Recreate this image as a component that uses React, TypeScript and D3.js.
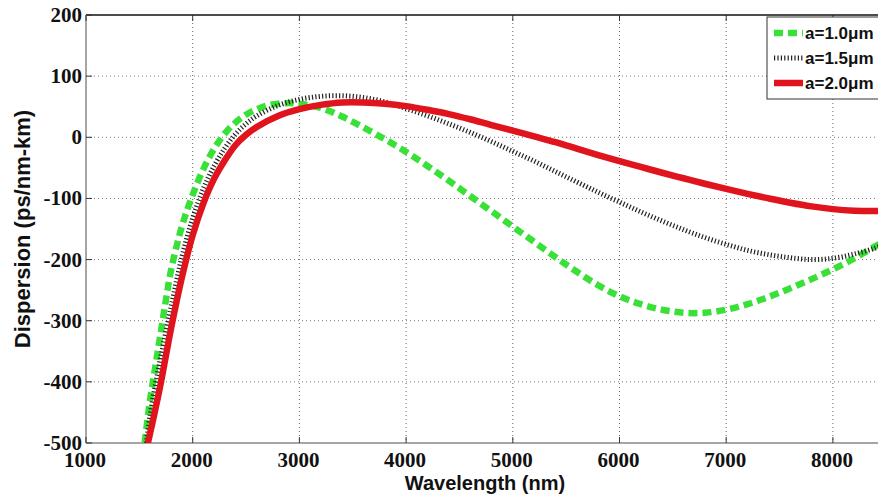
import React from "react";
import * as d3 from "d3";

const xTicks = [1000, 2000, 3000, 4000, 5000, 6000, 7000, 8000];
const yTicks = [200, 100, 0, -100, -200, -300, -400, -500];

const wlA10 = [1550, 1600, 1650, 1700, 1750, 1800, 1900, 2000, 2100, 2200, 2300, 2400, 2500, 2600, 2700, 2800, 2900, 3000, 3200, 3400, 3600, 3800, 4000, 4200, 4400, 4600, 4800, 5000, 5200, 5400, 5600, 5800, 6000, 6200, 6400, 6600, 6800, 7000, 7200, 7400, 7600, 7800, 8000, 8200, 8400, 8500];
const dA10 = [-500, -430, -375, -320, -265, -215, -145, -94, -52, -19, 6, 24, 37, 46, 52, 55, 56, 55, 48, 34, 16, -3, -24, -47, -71, -96, -121, -146, -171, -196, -220, -242, -260, -273, -282, -287, -287, -282, -273, -261, -247, -232, -216, -198, -178, -168];

const wlA15 = [1565, 1600, 1650, 1700, 1800, 1900, 2000, 2100, 2200, 2300, 2400, 2500, 2600, 2800, 3000, 3200, 3400, 3600, 3800, 4000, 4200, 4400, 4600, 4800, 5000, 5200, 5400, 5600, 5800, 6000, 6200, 6400, 6600, 6800, 7000, 7200, 7400, 7600, 7800, 8000, 8200, 8400, 8500];
const dA15 = [-500, -455, -405, -360, -275, -195, -132, -84, -47, -18, 5, 22, 35, 52, 62, 67, 68, 65, 58, 47, 35, 22, 8, -7, -23, -39, -56, -73, -90, -106, -122, -137, -151, -164, -175, -185, -192, -197, -200, -198, -191, -181, -174];

const wlA20 = [1580, 1650, 1700, 1800, 1900, 2000, 2100, 2200, 2300, 2400, 2500, 2600, 2800, 3000, 3200, 3400, 3600, 3800, 4000, 4200, 4400, 4600, 4800, 5000, 5200, 5400, 5600, 5800, 6000, 6200, 6400, 6600, 6800, 7000, 7200, 7400, 7600, 7800, 8000, 8200, 8400, 8500];
const dA20 = [-500, -445, -403, -310, -228, -160, -108, -68, -38, -13, 4, 17, 35, 46, 53, 57, 57, 55, 51, 45, 38, 29.5, 20, 11, 1.5, -8, -18.5, -29, -39, -48.5, -58, -67, -76, -84.5, -92.5, -100, -107, -113, -117.5, -120, -120.5, -120];

const seriesNames = ["a=1.0\u03bcm", "a=1.5\u03bcm", "a=2.0\u03bcm"];

const W = 878;
const H = 499;
const L = 86;
const T = 15;
const B = 443;

export default function App() {
  const x = d3.scaleLinear().domain([1000, 8500]).range([L, L + 7.5 * 106.7]);
  const y = d3.scaleLinear().domain([-500, 200]).range([B, T]);

  const mk = (wl: number[], d: number[]) => wl.map((w, i) => [w, d[i]] as [number, number]);
  const line = d3
    .line<[number, number]>()
    .x((p) => x(p[0]))
    .y((p) => y(p[1]))
    .curve(d3.curveCatmullRom.alpha(0.5));

  const series = [
    { name: seriesNames[0], data: mk(wlA10, dA10), stroke: "#38e038", width: 6.5, dash: "9 5" },
    { name: seriesNames[1], data: mk(wlA15, dA15), stroke: "#222", width: 5, dash: "1.2 2.2" },
    { name: seriesNames[2], data: mk(wlA20, dA20), stroke: "#e0141c", width: 6.5, dash: "" },
  ];

  const serif = { fontFamily: "'Liberation Serif', 'DejaVu Serif', 'Times New Roman', serif" };
  const sans = { fontFamily: "'Liberation Sans', Arial, sans-serif" };

  return (
    <svg
      width={W}
      height={H}
      style={{ position: "absolute", left: 0, top: 0, background: "#fff", display: "block" }}
    >
      <defs>
        <clipPath id="plotclip">
          <rect x={L} y={T} width={W - L} height={B - T} />
        </clipPath>
      </defs>
      <rect x={0} y={0} width={W} height={H} fill="#fff" />
      {xTicks.filter((t) => t > 1000).map((t) => (
        <line key={"gx" + t} x1={x(t)} x2={x(t)} y1={T} y2={B} stroke="#666" strokeWidth={1} strokeDasharray="1 3" />
      ))}
      {yTicks.filter((t) => t < 200 && t > -500).map((t) => (
        <line key={"gy" + t} x1={L} x2={W} y1={y(t)} y2={y(t)} stroke="#777" strokeWidth={1} strokeDasharray="1 3" />
      ))}
      <line x1={L} x2={W} y1={T} y2={T} stroke="#111" strokeWidth={1.5} />
      <line x1={L} x2={L} y1={T} y2={B} stroke="#888" strokeWidth={1.5} />
      <line x1={L} x2={W} y1={B} y2={B} stroke="#888" strokeWidth={1.5} />
      {xTicks.map((t) => (
        <g key={"tx" + t}>
          <line x1={x(t)} x2={x(t)} y1={B} y2={B - 6} stroke="#333" strokeWidth={1} />
          <line x1={x(t)} x2={x(t)} y1={T} y2={T + 6} stroke="#333" strokeWidth={1} />
          <text x={x(t) - 1} y={467} textAnchor="middle" style={serif} fontWeight="bold" fontSize={21} fill="#111">
            {t}
          </text>
        </g>
      ))}
      {yTicks.map((t) => (
        <g key={"ty" + t}>
          <line x1={L} x2={L + 6} y1={y(t)} y2={y(t)} stroke="#333" strokeWidth={1} />
          <text x={82} y={y(t) + 7} textAnchor="end" style={serif} fontWeight="bold" fontSize={21} fill="#111">
            {t}
          </text>
        </g>
      ))}
      <g clipPath="url(#plotclip)">
        {series.map((s) => (
          <path
            key={s.name}
            d={line(s.data) || ""}
            fill="none"
            stroke={s.stroke}
            strokeWidth={s.width}
            strokeDasharray={s.dash || undefined}
          />
        ))}
      </g>
      <text x={485} y={490} textAnchor="middle" style={sans} fontWeight="bold" fontSize={20} fill="#111">
        Wavelength (nm)
      </text>
      <text
        transform={`translate(30, ${(T + B) / 2}) rotate(-90)`}
        textAnchor="middle"
        style={sans}
        fontWeight="bold"
        fontSize={22}
        fill="#111"
      >
        Dispersion (ps/nm-km)
      </text>
      <rect x={767} y={17} width={130} height={82} fill="#fff" stroke="#333" strokeWidth={1} />
      {series.map((s, i) => {
        const yy = 33 + i * 25;
        return (
          <g key={"lg" + i}>
            <line x1={774} x2={803} y1={yy} y2={yy} stroke={s.stroke} strokeWidth={s.width} strokeDasharray={s.dash || undefined} />
            <text x={805} y={yy + 6} style={sans} fontWeight="bold" fontSize={17} fill="#111">
              {s.name}
            </text>
          </g>
        );
      })}
    </svg>
  );
}
